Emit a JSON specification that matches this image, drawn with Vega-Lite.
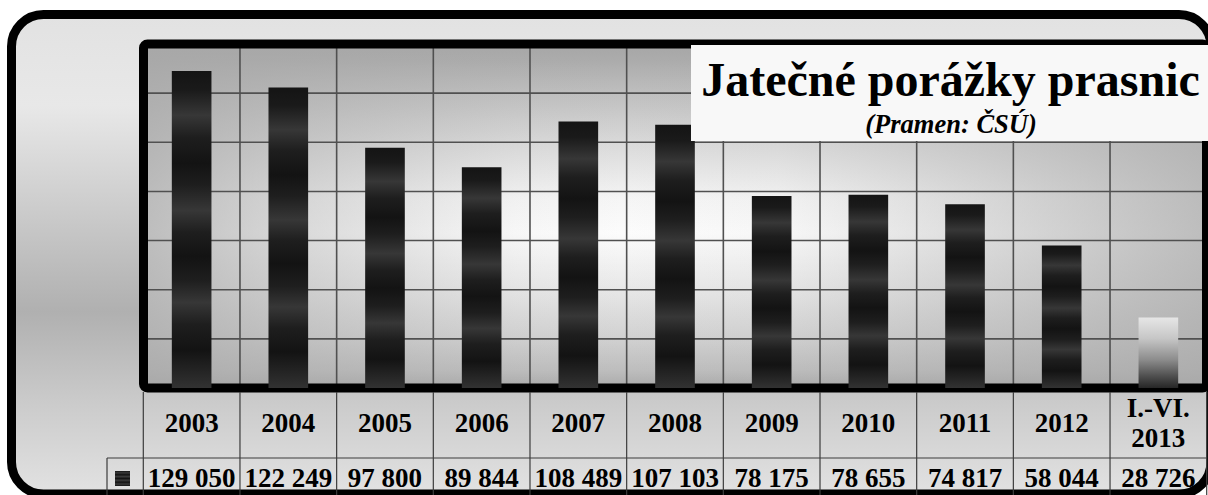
{
  "$schema": "https://vega.github.io/schema/vega-lite/v6.json",
  "width": 1208,
  "height": 495,
  "padding": 0,
  "autosize": {"type": "none"},
  "background": "white",
  "config": {
    "view": {"stroke": null, "fill": null},
    "locale": {"number": {"decimal": ",", "thousands": " ", "grouping": [3], "currency": ["", " Kč"]}},
    "text": {"font": "Liberation Serif"}
  },
  "datasets": {
    "main": [
      {"period": "2003", "value": 129050},
      {"period": "2004", "value": 122249},
      {"period": "2005", "value": 97800},
      {"period": "2006", "value": 89844},
      {"period": "2007", "value": 108489},
      {"period": "2008", "value": 107103},
      {"period": "2009", "value": 78175},
      {"period": "2010", "value": 78655},
      {"period": "2011", "value": 74817},
      {"period": "2012", "value": 58044},
      {"period": "I.-VI. 2013", "value": 28726}
    ],
    "grid": [{"v": 20000}, {"v": 40000}, {"v": 60000}, {"v": 80000}, {"v": 100000}, {"v": 120000}],
    "one": [{}]
  },
  "layer": [
    {
      "data": {"name": "one"},
      "mark": {"type": "rect", "stroke": "black", "strokeWidth": 9, "cornerRadius": 32,
        "fill": {"gradient": "linear", "x1": 0, "y1": 0, "x2": 0, "y2": 1, "stops": [
          {"offset": 0, "color": "#e2e2e2"},
          {"offset": 0.19, "color": "#e8e8e8"},
          {"offset": 0.62, "color": "#b0b0b0"},
          {"offset": 0.81, "color": "#cbcbcb"},
          {"offset": 1, "color": "#e2e2e2"}]}},
      "encoding": {"x": {"value": 11.5}, "x2": {"value": 1211}, "y": {"value": 14.5}, "y2": {"value": 494}}
    },
    {
      "data": {"name": "one"},
      "mark": {"type": "rect",
        "fill": {"gradient": "linear", "x1": 0, "y1": 0, "x2": 0, "y2": 1, "stops": [
          {"offset": 0, "color": "#a6a6a6"},
          {"offset": 0.05, "color": "#acacac"},
          {"offset": 0.14, "color": "#bebebe"},
          {"offset": 0.28, "color": "#d8d8d8"},
          {"offset": 0.45, "color": "#f5f5f5"},
          {"offset": 0.55, "color": "#fcfcfc"},
          {"offset": 0.71, "color": "#e8e8e8"},
          {"offset": 0.86, "color": "#d0d0d0"},
          {"offset": 0.95, "color": "#bdbdbd"},
          {"offset": 1, "color": "#a9a9a9"}]}},
      "encoding": {"x": {"value": 143.5}, "x2": {"value": 1206.5}, "y": {"value": 44}, "y2": {"value": 388}}
    },
    {
      "data": {"name": "one"},
      "mark": {"type": "rect",
        "fill": {"gradient": "linear", "x1": 0, "y1": 0, "x2": 1, "y2": 0, "stops": [
          {"offset": 0, "color": "rgba(168,168,168,0.75)"},
          {"offset": 0.15, "color": "rgba(168,168,168,0.4)"},
          {"offset": 0.35, "color": "rgba(168,168,168,0.06)"},
          {"offset": 0.45, "color": "rgba(168,168,168,0)"},
          {"offset": 0.6, "color": "rgba(168,168,168,0.06)"},
          {"offset": 0.8, "color": "rgba(168,168,168,0.4)"},
          {"offset": 1, "color": "rgba(168,168,168,0.75)"}]}},
      "encoding": {"x": {"value": 143.5}, "x2": {"value": 1206.5}, "y": {"value": 44}, "y2": {"value": 388}}
    },
    {
      "data": {"name": "grid"},
      "mark": {"type": "rule", "stroke": "#505050", "strokeWidth": 1.6},
      "encoding": {
        "y": {"field": "v", "type": "quantitative", "scale": {"domain": [0, 140000], "range": [388, 44], "nice": false, "zero": true}, "axis": null},
        "x": {"value": 143.5}, "x2": {"value": 1206.5}
      }
    },
    {
      "data": {"name": "main"},
      "transform": [{"filter": "datum.period !== '2003'"}],
      "mark": {"type": "rule", "stroke": "#505050", "strokeWidth": 1.6},
      "encoding": {
        "x": {"field": "period", "type": "nominal", "bandPosition": 0, "scale": {"range": [143.3, 1206.7], "paddingInner": 0, "paddingOuter": 0}, "axis": null},
        "y": {"value": 44}, "y2": {"value": 388}
      }
    },
    {
      "data": {"name": "one"},
      "mark": {"type": "rect", "filled": false, "fill": null, "stroke": "black", "strokeWidth": 9, "cornerRadius": 4},
      "encoding": {"x": {"value": 143.5}, "x2": {"value": 1206.5}, "y": {"value": 44}, "y2": {"value": 388}}
    },
    {
      "data": {"name": "main"},
      "transform": [{"filter": "datum.period !== 'I.-VI. 2013'"}],
      "mark": {"type": "bar", "width": {"band": 0.41},
        "fill": {"gradient": "linear", "x1": 0, "y1": 0, "x2": 0, "y2": 1, "stops": [
          {"offset": 0, "color": "#141414"},
          {"offset": 0.06, "color": "#1a1a1a"},
          {"offset": 0.14, "color": "#373737"},
          {"offset": 0.21, "color": "#1e1e1e"},
          {"offset": 0.29, "color": "#131313"},
          {"offset": 0.36, "color": "#1e1e1e"},
          {"offset": 0.44, "color": "#373737"},
          {"offset": 0.51, "color": "#1e1e1e"},
          {"offset": 0.585, "color": "#131313"},
          {"offset": 0.66, "color": "#1e1e1e"},
          {"offset": 0.73, "color": "#373737"},
          {"offset": 0.8, "color": "#1e1e1e"},
          {"offset": 0.88, "color": "#131313"},
          {"offset": 1, "color": "#323232"}]}},
      "encoding": {
        "x": {"field": "period", "type": "nominal", "scale": {"range": [143.3, 1206.7], "paddingInner": 0, "paddingOuter": 0}, "axis": null},
        "y": {"field": "value", "type": "quantitative", "scale": {"domain": [0, 140000], "range": [388, 44], "nice": false, "zero": true}, "axis": null}
      }
    },
    {
      "data": {"name": "main"},
      "transform": [{"filter": "datum.period === 'I.-VI. 2013'"}],
      "mark": {"type": "bar", "width": {"band": 0.41},
        "fill": {"gradient": "linear", "x1": 0, "y1": 0, "x2": 0, "y2": 1, "stops": [
          {"offset": 0, "color": "#e6e6e6"},
          {"offset": 0.3, "color": "#c6c6c6"},
          {"offset": 0.6, "color": "#8c8c8c"},
          {"offset": 0.85, "color": "#4a4a4a"},
          {"offset": 1, "color": "#262626"}]}},
      "encoding": {
        "x": {"field": "period", "type": "nominal", "scale": {"range": [143.3, 1206.7], "paddingInner": 0, "paddingOuter": 0}, "axis": null},
        "y": {"field": "value", "type": "quantitative", "scale": {"domain": [0, 140000], "range": [388, 44], "nice": false, "zero": true}, "axis": null}
      }
    },
    {
      "data": {"name": "main"},
      "mark": {"type": "rule", "stroke": "#3c3c3c", "strokeWidth": 1.2},
      "encoding": {
        "x": {"field": "period", "type": "nominal", "bandPosition": 0, "scale": {"range": [143.3, 1206.7], "paddingInner": 0, "paddingOuter": 0}, "axis": null},
        "y": {"value": 392}, "y2": {"value": 495}
      }
    },
    {
      "data": {"name": "main"},
      "transform": [{"filter": "datum.period === 'I.-VI. 2013'"}],
      "mark": {"type": "rule", "stroke": "#3c3c3c", "strokeWidth": 1.2},
      "encoding": {
        "x": {"field": "period", "type": "nominal", "bandPosition": 1, "scale": {"range": [143.3, 1206.7], "paddingInner": 0, "paddingOuter": 0}, "axis": null},
        "y": {"value": 392}, "y2": {"value": 495}
      }
    },
    {
      "data": {"name": "one"},
      "mark": {"type": "rule", "stroke": "#3c3c3c", "strokeWidth": 1.2},
      "encoding": {"x": {"value": 107}, "x2": {"value": 1206.7}, "y": {"value": 458}}
    },
    {
      "data": {"name": "one"},
      "mark": {"type": "rule", "stroke": "#3c3c3c", "strokeWidth": 1.2},
      "encoding": {"x": {"value": 107}, "y": {"value": 458}, "y2": {"value": 495}}
    },
    {
      "data": {"name": "one"},
      "mark": {"type": "rect",
        "fill": {"gradient": "linear", "x1": 0, "y1": 0, "x2": 0, "y2": 1, "stops": [
          {"offset": 0, "color": "#141414"},
          {"offset": 0.12, "color": "#3a3a3a"},
          {"offset": 0.25, "color": "#141414"},
          {"offset": 0.37, "color": "#3a3a3a"},
          {"offset": 0.5, "color": "#141414"},
          {"offset": 0.62, "color": "#3a3a3a"},
          {"offset": 0.75, "color": "#141414"},
          {"offset": 0.87, "color": "#3a3a3a"},
          {"offset": 1, "color": "#141414"}]}},
      "encoding": {"x": {"value": 115}, "x2": {"value": 130}, "y": {"value": 471}, "y2": {"value": 486}}
    },
    {
      "data": {"name": "main"},
      "transform": [{"filter": "datum.period !== 'I.-VI. 2013'"}],
      "mark": {"type": "text", "font": "Liberation Serif", "fontWeight": "bold", "fontSize": 27, "align": "center", "baseline": "alphabetic", "color": "black"},
      "encoding": {
        "x": {"field": "period", "type": "nominal", "scale": {"range": [143.3, 1206.7], "paddingInner": 0, "paddingOuter": 0}, "axis": null},
        "y": {"value": 432},
        "text": {"field": "period", "type": "nominal"}
      }
    },
    {
      "data": {"name": "main"},
      "transform": [{"filter": "datum.period === 'I.-VI. 2013'"}],
      "mark": {"type": "text", "font": "Liberation Serif", "fontWeight": "bold", "fontSize": 27, "align": "center", "baseline": "alphabetic", "lineBreak": " ", "lineHeight": 30, "color": "black"},
      "encoding": {
        "x": {"field": "period", "type": "nominal", "scale": {"range": [143.3, 1206.7], "paddingInner": 0, "paddingOuter": 0}, "axis": null},
        "y": {"value": 417},
        "text": {"field": "period", "type": "nominal"}
      }
    },
    {
      "data": {"name": "main"},
      "mark": {"type": "text", "font": "Liberation Serif", "fontWeight": "bold", "fontSize": 27, "align": "center", "baseline": "alphabetic", "color": "black"},
      "encoding": {
        "x": {"field": "period", "type": "nominal", "scale": {"range": [143.3, 1206.7], "paddingInner": 0, "paddingOuter": 0}, "axis": null},
        "y": {"value": 487},
        "text": {"field": "value", "type": "quantitative", "format": ",d"}
      }
    },
    {
      "data": {"name": "one"},
      "mark": {"type": "rect", "fill": "#f8f8f8"},
      "encoding": {"x": {"value": 691}, "x2": {"value": 1215}, "y": {"value": 45}, "y2": {"value": 141}}
    },
    {
      "data": {"name": "one"},
      "mark": {"type": "text", "text": "Jatečné porážky prasnic", "font": "Liberation Serif", "fontWeight": "bold", "fontSize": 48, "align": "center", "baseline": "alphabetic", "color": "black"},
      "encoding": {"x": {"value": 950.5}, "y": {"value": 96}}
    },
    {
      "data": {"name": "one"},
      "mark": {"type": "text", "text": "(Pramen: ČSÚ)", "font": "Liberation Serif", "fontWeight": "bold", "fontStyle": "italic", "fontSize": 26.5, "align": "center", "baseline": "alphabetic", "color": "black"},
      "encoding": {"x": {"value": 951}, "y": {"value": 133}}
    }
  ]
}
